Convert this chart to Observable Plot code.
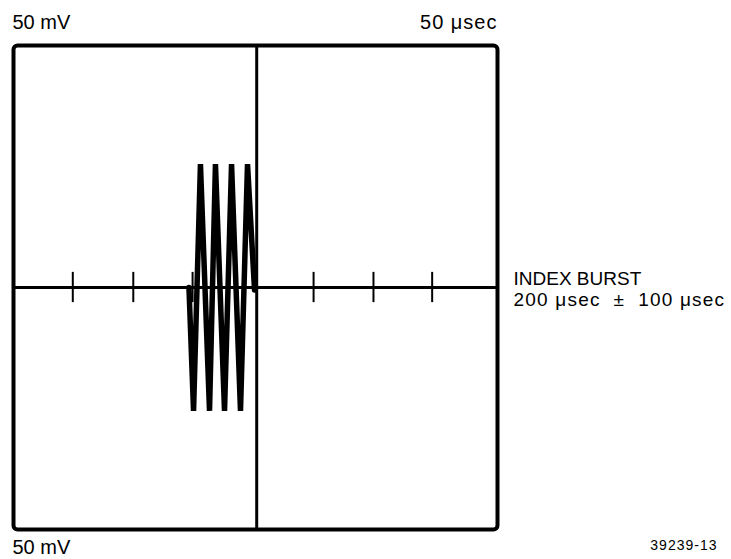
<!DOCTYPE html>
<html>
<head>
<meta charset="utf-8">
<script src="https://cdn.jsdelivr.net/npm/d3@7"></script>
<script src="https://cdn.jsdelivr.net/npm/@observablehq/plot@0.6"></script>
<style>
  html, body { margin: 0; padding: 0; background: #fff; }
  svg { display: block; }
  .wide text { letter-spacing: 1.2px; }
  .wide1 text { letter-spacing: 1px; }
</style>
</head>
<body>
<div id="chart"></div>
<script>
// Oscilloscope graticule: 8 x 8 divisions, 50 µsec/div horizontally, 50 mV/div vertically
const timeDomain = [-200, 200];      // µsec
const voltDomain = [-200, 200];      // mV
const centerTime = [1];              // vertical centre graticule line (µsec)
const centerVolt = [0];              // horizontal centre graticule line (mV)
const tickTimes = [-151, -101, -52, 48, 97.5, 146];   // minor ticks on the centre line (µsec)
const tickHalf = [12.5];             // tick half-length (mV)

// Index burst trace
const burstTime = [-55, -51.2, -45.5, -38.0, -33.1, -25.6, -19.8, -12.4, -6.6, -0.8];
const burstVolt = [0, -102, 102, -102, 102, -102, 102, -102, 102, -2];

const labelTopLeft = ["50 mV"];
const labelTopRight = ["50 \u03BCsec"];
const labelBottomLeft = ["50 mV"];
const labelRight1 = ["INDEX BURST"];
const labelRight2 = ["200 \u03BCsec  \u00B1  100 \u03BCsec"];
const labelId = ["39239-13"];

const burst = burstTime.map((t, i) => ({t, v: burstVolt[i]}));
const font = "'Liberation Sans', Arial, Helvetica, sans-serif";

const chart = Plot.plot({
  width: 731,
  height: 559,
  marginLeft: 13,
  marginRight: 234,
  marginTop: 45,
  marginBottom: 30,
  x: {domain: timeDomain, axis: null},
  y: {domain: voltDomain, axis: null},
  style: {fontFamily: font, background: "#fff", color: "#000"},
  marks: [
    Plot.ruleY(centerVolt, {stroke: "#000", strokeWidth: 3}),
    Plot.ruleX(centerTime, {stroke: "#000", strokeWidth: 3}),
    Plot.ruleX(tickTimes, {x: d => d, y1: -tickHalf[0], y2: tickHalf[0], stroke: "#000", strokeWidth: 2}),
    Plot.line(burst, {x: "t", y: "v", stroke: "#000", strokeWidth: 5.5, strokeLinejoin: "miter", strokeMiterlimit: 4}),
    Plot.frame({stroke: "#000", strokeWidth: 4, rx: 4}),
    Plot.text(labelTopLeft, {text: d => d, frameAnchor: "top-left", textAnchor: "start", lineAnchor: "bottom", dx: -1, dy: -17, fontSize: 20}),
    Plot.text(labelTopRight, {text: d => d, frameAnchor: "top-right", textAnchor: "end", lineAnchor: "bottom", dx: 0, dy: -17, fontSize: 20, className: "wide1"}),
    Plot.text(labelBottomLeft, {text: d => d, frameAnchor: "bottom-left", textAnchor: "start", lineAnchor: "top", dx: -1, dy: 10, fontSize: 20}),
    Plot.text(labelRight1, {text: d => d, frameAnchor: "right", textAnchor: "start", lineAnchor: "bottom", dx: 16, dy: -3, fontSize: 19}),
    Plot.text(labelRight2, {text: d => d, frameAnchor: "right", textAnchor: "start", lineAnchor: "bottom", dx: 16, dy: 18, fontSize: 19, className: "wide"}),
    Plot.text(labelId, {text: d => d, frameAnchor: "bottom-right", textAnchor: "end", lineAnchor: "top", dx: 220, dy: 11, fontSize: 14, className: "wide1"})
  ]
});
document.getElementById("chart").append(chart);
</script>
</body>
</html>
